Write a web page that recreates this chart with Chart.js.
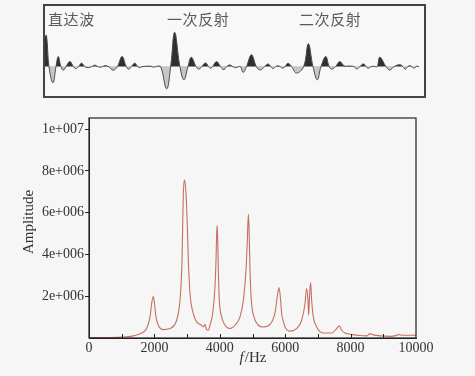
<!DOCTYPE html>
<html>
<head>
<meta charset="utf-8">
<script src="https://cdn.jsdelivr.net/npm/chart.js@4/dist/chart.umd.min.js"></script>
<style>
html,body{margin:0;padding:0;background:#f6f6f6;width:475px;height:376px;overflow:hidden;}
#top{position:absolute;left:43px;top:4px;width:379px;height:90px;border:2px solid #444;background:#f8f8f8;}
#top canvas{position:absolute;left:0;top:0;}
.lab{position:absolute;font-family:"Noto Sans CJK SC",sans-serif;font-size:15px;line-height:16px;color:#5a5a5a;white-space:nowrap;letter-spacing:0.6px;}
#bot{position:absolute;left:0;top:105px;width:475px;height:271px;}
</style>
</head>
<body>
<div id="top"><canvas id="wave" width="379" height="90"></canvas></div>
<div class="lab" style="left:48px;top:11px;">直达波</div>
<div class="lab" style="left:167px;top:11px;">一次反射</div>
<div class="lab" style="left:299px;top:11px;">二次反射</div>
<div id="bot"><canvas id="spec" width="475" height="271"></canvas></div>
<script>
// ---- top panel: waveform (time sample, relative amplitude) ----
const waveTime = [0,1.5,4,8,11,13.3,16,18.3,21,25,28.5,31,33.5,36.7,40,43.3,46.5,50,53,55,57.5,60,64,68.3,72.5,77.3,81.5,84,86.5,90,93,95,97,101,106,109,112.7,116,122,126,130,135.3,139.3,143.3,146.7,151.5,154.3,157,161,164,166,168,172,176,179.3,182,185.3,188.5,191,194,196,198.7,202,207,212,216,220,223.7,226.5,228.7,231,233.5,236,238,240.7,243.5,247.3,252,259.3,264,268.7,273,276.7,281.5,285,287.5,291.3,295.5,300,305,308,310,312.7,315.5,319.3,322,324.3,327,330,333,335.7,342,345.7,350,355.7,359,361.3,363.5,365.7,367.7,370,371.7,373,375,377.7];
const waveAmp  = [30,31,0,-16,0,10,0,-3.5,0,5,0,-2,0,3.5,0,-1,0,1.5,0,-0.5,0,1,0,-3.5,0,10,0,-2.5,0,3.5,0,-1,0,0.3,0.5,-0.5,0.5,0,-22,0,34,0,-13,0,9.3,0,-2.5,0,3.7,0,-1.5,0,5,0,-3,0,1.7,0,-1,0,0.2,-5.7,0,11.7,0,-3.3,0,2.7,0,-2,0,0.8,0,-1.5,0,3.3,0,-6.3,0,22.7,0,-13,0,10,0,-2.3,0,5,0.8,0.6,0.5,0,-2.3,0,2.7,0,-1.5,0,0.4,0,9.3,0,-3.3,0,2,0,-2.7,0,1,0,-1.5,0,0.5,0];

// ---- bottom panel: amplitude spectrum ----
const freqHz = [0,500,1000,1356,1611,1763,1865,1916,1967,2008,2049,2120,2273,2477,2681,2762,2813,2844,2864,2885,2915,2935,2966,3007,3038,3089,3190,3292,3445,3496,3547,3598,3650,3700,3782,3853,3884,3914,3935,3955,3986,4057,4159,4312,4465,4618,4720,4801,4842,4873,4893,4924,4964,5046,5178,5331,5535,5688,5770,5810,5861,5892,5943,5994,6147,6350,6503,6605,6656,6697,6717,6748,6778,6809,6860,6962,7166,7421,7574,7655,7727,7828,7981,8287,8491,8593,8695,8899,9205,9357,9459,9612,10000];
const amplitude = [0.02e6,0.02e6,0.04e6,0.10e6,0.24e6,0.45e6,1.0e6,1.65e6,2.0e6,1.57e6,1.0e6,0.61e6,0.40e6,0.45e6,0.85e6,1.49e6,2.45e6,3.72e6,5.32e6,6.92e6,7.56e6,7.45e6,6.92e6,5.32e6,3.72e6,2.13e6,1.17e6,0.77e6,0.61e6,0.53e6,0.65e6,0.40e6,0.37e6,0.61e6,1.17e6,2.45e6,3.72e6,5.40e6,4.84e6,3.24e6,1.80e6,1.01e6,0.61e6,0.45e6,0.61e6,1.01e6,1.80e6,3.24e6,4.68e6,5.93e6,5.32e6,3.24e6,1.80e6,1.01e6,0.61e6,0.53e6,0.65e6,1.2e6,2.13e6,2.42e6,1.80e6,1.17e6,0.80e6,0.53e6,0.33e6,0.45e6,0.85e6,1.65e6,2.37e6,1.81e6,1.09e6,2.13e6,2.66e6,1.81e6,1.01e6,0.53e6,0.24e6,0.24e6,0.45e6,0.58e6,0.37e6,0.24e6,0.18e6,0.12e6,0.10e6,0.21e6,0.15e6,0.10e6,0.08e6,0.10e6,0.16e6,0.13e6,0.13e6];

const xTicks = [0,2000,4000,6000,8000,10000];
const xTickLabels = ['0','2000','4000','6000','8000','10000'];
const xMinorTicks = [1000,2000,3000,4000,5000,6000,7000,8000,9000];
const yTicks = [2e6,4e6,6e6,8e6,1e7];
const yTickLabels = ['2e+006','4e+006','6e+006','8e+006','1e+007'];
const yTitle = 'Amplitude';
const xTitleItalic = 'f';
const xTitleRest = '/Hz';

const serif = '"Liberation Serif","Times New Roman",serif';

new Chart(document.getElementById('wave'), {
  type: 'line',
  data: {
    datasets: [{
      data: waveTime.map((t, i) => ({x: t, y: waveAmp[i]})),
      borderColor: '#4a4a4a',
      borderWidth: 1,
      pointRadius: 0,
      tension: 0.4,
      fill: {target: {value: 0}, above: '#2f2f2f', below: '#c6c6c6'}
    }]
  },
  options: {
    responsive: false, animation: false,
    layout: {padding: 0},
    plugins: {legend: {display: false}, tooltip: {enabled: false}},
    scales: {
      x: {type: 'linear', display: false, min: 0, max: 380},
      y: {display: false, min: -29, max: 60}
    }
  }
});

const frame = {
  id: 'frame',
  afterDraw(chart) {
    const {ctx, chartArea: a, scales} = chart;
    ctx.save();
    ctx.strokeStyle = '#222';
    ctx.lineWidth = 1.2;
    ctx.strokeRect(a.left, a.top, a.right - a.left, a.bottom - a.top);
    // inward minor ticks on x axis
    ctx.lineWidth = 1;
    xMinorTicks.forEach(v => {
      const px = Math.round(scales.x.getPixelForValue(v)) + 0.5;
      ctx.beginPath();
      ctx.moveTo(px, a.bottom);
      ctx.lineTo(px, a.bottom - 4);
      ctx.stroke();
    });
    // axis titles
    ctx.fillStyle = '#333';
    ctx.textBaseline = 'middle';
    ctx.font = '15px ' + serif;
    ctx.save();
    ctx.translate(29, (a.top + a.bottom) / 2 - 6);
    ctx.rotate(-Math.PI / 2);
    ctx.textAlign = 'center';
    ctx.fillText(yTitle, 0, 0);
    ctx.restore();
    const cx = (a.left + a.right) / 2;
    ctx.font = 'italic 15px ' + serif;
    const w1 = ctx.measureText(xTitleItalic).width;
    ctx.font = '15px ' + serif;
    const w2 = ctx.measureText(xTitleRest).width;
    const x0 = cx - (w1 + w2) / 2;
    const y0 = a.bottom + 20;
    ctx.textAlign = 'left';
    ctx.font = 'italic 15px ' + serif;
    ctx.fillText(xTitleItalic, x0, y0);
    ctx.font = '15px ' + serif;
    ctx.fillText(xTitleRest, x0 + w1 + 1, y0);
    ctx.restore();
  }
};

new Chart(document.getElementById('spec'), {
  type: 'line',
  data: {
    datasets: [{
      data: freqHz.map((f, i) => ({x: f, y: amplitude[i]})),
      borderColor: '#c86e60',
      borderWidth: 1.1,
      pointRadius: 0,
      cubicInterpolationMode: 'monotone',
      fill: false
    }]
  },
  options: {
    responsive: false, animation: false,
    layout: {padding: {top: 13, right: 59, left: 0, bottom: 0}},
    plugins: {legend: {display: false}, tooltip: {enabled: false}},
    scales: {
      x: {
        type: 'linear', min: 0, max: 10000,
        afterBuildTicks: s => { s.ticks = xTicks.map(v => ({value: v})); },
        afterFit: s => { s.height = 38; },
        grid: {display: true, drawOnChartArea: false, drawTicks: false},
        border: {display: true, color: '#222', width: 1},
        ticks: {
          padding: 2, color: '#333', maxRotation: 0, autoSkip: false,
          font: {family: serif, size: 14},
          callback: v => xTickLabels[xTicks.indexOf(v)]
        }
      },
      y: {
        min: 0, max: 1.053e7,
        afterBuildTicks: s => { s.ticks = yTicks.map(v => ({value: v})); },
        afterFit: s => { s.width = 89; },
        grid: {display: true, drawOnChartArea: false, drawTicks: true, tickLength: 4, color: '#222'},
        border: {display: true, color: '#222', width: 1},
        ticks: {
          padding: 1, color: '#333', autoSkip: false,
          font: {family: serif, size: 14},
          callback: v => yTickLabels[yTicks.indexOf(v)]
        }
      }
    }
  },
  plugins: [frame]
});
</script>
</body>
</html>
